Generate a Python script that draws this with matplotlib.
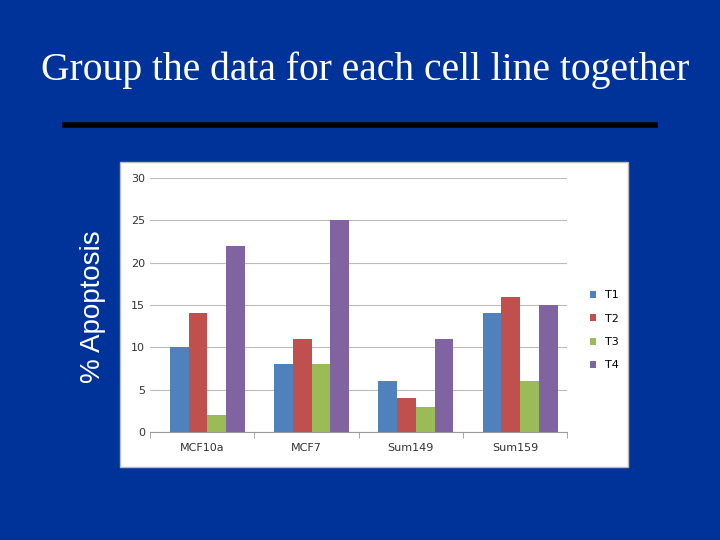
import matplotlib
matplotlib.use("Agg")
import matplotlib.pyplot as plt
from matplotlib.patches import Rectangle
from matplotlib.lines import Line2D
import numpy as np

categories = ["MCF10a", "MCF7", "Sum149", "Sum159"]
series_names = ["T1", "T2", "T3", "T4"]
T1 = [10, 8, 6, 14]
T2 = [14, 11, 4, 16]
T3 = [2, 8, 3, 6]
T4 = [22, 25, 11, 15]
colors = ["#4F81BD", "#C0504D", "#9BBB59", "#8064A2"]
yticks = [0, 5, 10, 15, 20, 25, 30]

fig = plt.figure(figsize=(7.2, 5.4), dpi=100)
fig.patch.set_facecolor("#003399")

fig.text(365/720, 1-70/540, "Group the data for each cell line together", ha="center", va="center",
         family="Liberation Serif", fontsize=28.5, color="white")
fig.add_artist(Line2D([65/720, 655/720], [1-125/540, 1-125/540], color="black", lw=4))
panel = Rectangle((120/720, 1-467/540), 508/720, 305/540, transform=fig.transFigure,
                  facecolor="white", edgecolor="#BBBBBB", lw=1, zorder=-10)
fig.add_artist(panel)
fig.text(93/720, 1-307/540, "% Apoptosis", rotation=90, ha="center", va="center",
         family="Liberation Sans", fontsize=20, color="white")

ax = fig.add_axes([150/720, 1-432/540, 417/720, 254/540], zorder=5)
ax.set_facecolor("white")
x = np.arange(len(categories))
w = 0.18
for i, (name, vals) in enumerate(zip(series_names, [T1, T2, T3, T4])):
    ax.bar(x + (i - 1.5) * w + 0.05, vals, w, color=colors[i], label=name, zorder=3)
ax.set_xlim(-0.5, 3.5)
ax.set_ylim(0, 30)
ax.set_yticks(yticks)
ax.set_xticks(x)
ax.set_xticklabels(categories)
ax.grid(axis="y", color="#BBBBBB", lw=0.8, zorder=0)
for s in ["top", "right", "left"]:
    ax.spines[s].set_visible(False)
ax.spines["bottom"].set_color("#999999")
ax.tick_params(axis="y", length=0, labelsize=8, colors="#333333")
ax.tick_params(axis="x", length=0, labelsize=8, colors="#333333", pad=8)
ax.set_xticks([-0.5, 0.5, 1.5, 2.5, 3.5], minor=True)
ax.tick_params(axis="x", which="minor", length=4, color="#999999")
ax.legend(loc="center left", bbox_to_anchor=(1.03, 0.4), frameon=False, fontsize=8,
          handlelength=0.6, handleheight=0.6, labelspacing=1.2)

fig.savefig("out.png", dpi=100, facecolor=fig.get_facecolor())
